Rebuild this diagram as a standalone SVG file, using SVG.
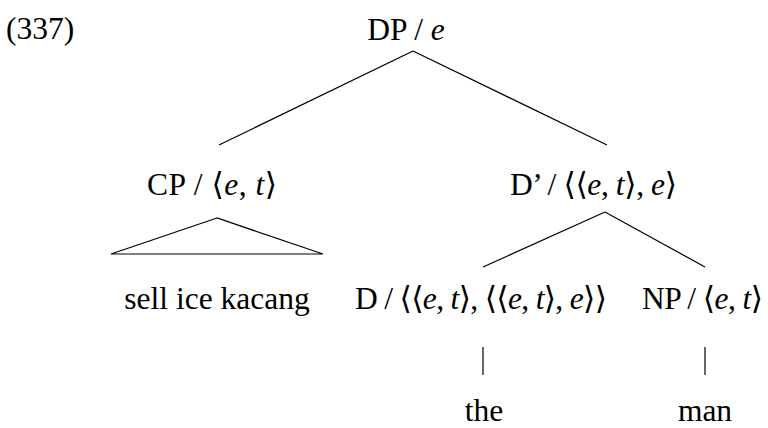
<svg xmlns="http://www.w3.org/2000/svg" width="768" height="428" viewBox="0 0 768 428">
<style>
.t{font-family:'Liberation Serif','Times New Roman','DejaVu Serif',serif;font-size:31.5px;fill:#000}
.i{font-style:italic}
.m{text-anchor:middle}
.c line,.c polygon{stroke:#000;stroke-width:1.2;fill:none}
</style>
<rect width="768" height="428" fill="#fff"/>
<text class="t" x="6" y="39">(337)</text>
<g id="DP"><text class="t m" x="406" y="40">DP / <tspan class="i">e</tspan></text></g>
<g id="CP"><text class="t m" x="212" y="195" textLength="130" lengthAdjust="spacing">CP / ⟨<tspan class="i">e</tspan>, <tspan class="i">t</tspan>⟩</text></g>
<g id="Dbar"><text class="t m" x="593.5" y="195" textLength="167" lengthAdjust="spacing">D’ / ⟨⟨<tspan class="i">e</tspan>, <tspan class="i">t</tspan>⟩, <tspan class="i">e</tspan>⟩</text></g>
<g id="sell"><text class="t m" x="217" y="309">sell ice kacang</text></g>
<g id="D"><text class="t m" x="481" y="309" textLength="252" lengthAdjust="spacing">D / ⟨⟨<tspan class="i">e</tspan>, <tspan class="i">t</tspan>⟩, ⟨⟨<tspan class="i">e</tspan>, <tspan class="i">t</tspan>⟩, <tspan class="i">e</tspan>⟩⟩</text></g>
<g id="NP"><text class="t m" x="702.5" y="309" textLength="121" lengthAdjust="spacing">NP / ⟨<tspan class="i">e</tspan>, <tspan class="i">t</tspan>⟩</text></g>
<g id="the"><text class="t m" x="484" y="421">the</text></g>
<g id="man"><text class="t m" x="705" y="421">man</text></g>
<g id="connectors" class="c">
<line x1="413" y1="51" x2="219" y2="145"/>
<line x1="413" y1="51" x2="607" y2="145"/>
<polygon points="217,218 111,254 323,254"/>
<line x1="605" y1="212" x2="483" y2="267"/>
<line x1="605" y1="212" x2="705" y2="267"/>
<line x1="483" y1="347" x2="483" y2="375"/>
<line x1="705" y1="347" x2="705" y2="375"/>
</g>
</svg>
